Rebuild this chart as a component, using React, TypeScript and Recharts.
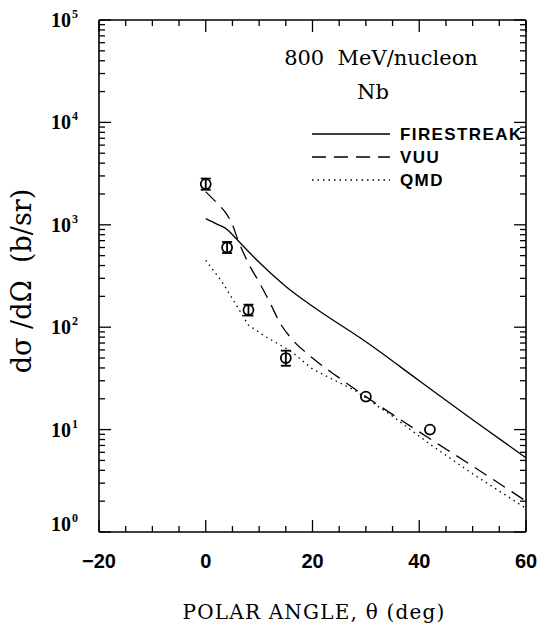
import React from 'react'
import {
  ComposedChart,
  Line,
  Scatter,
  ErrorBar,
  XAxis,
  YAxis,
} from 'recharts'

// values
const xTicks = [-20, -15, -10, -5, 0, 5, 10, 15, 20, 25, 30, 35, 40, 45, 50, 55, 60]
const yTicks = [
  1, 2, 3, 4, 5, 6, 7, 8, 9,
  10, 20, 30, 40, 50, 60, 70, 80, 90,
  100, 200, 300, 400, 500, 600, 700, 800, 900,
  1000, 2000, 3000, 4000, 5000, 6000, 7000, 8000, 9000,
  10000, 20000, 30000, 40000, 50000, 60000, 70000, 80000, 90000,
  100000,
]

const pointAngle = [0, 4, 8, 15, 30, 42]
const pointValue = [2500, 600, 147, 50, 21, 10]
const pointErrLow = [300, 70, 17, 8, 0, 0]
const pointErrHigh = [330, 80, 19, 9, 0, 0]

const fireAngle = [0, 2, 4, 5, 7, 10, 15, 20, 30, 40, 50, 60]
const fireValue = [1150, 1020, 900, 800, 620, 430, 250, 160, 72, 30, 12.5, 5.3]

const vuuAngle = [0, 2, 4, 5, 6, 8, 10, 12, 14, 16, 20, 25, 30, 40, 50, 60]
const vuuValue = [2100, 1650, 1250, 1000, 720, 420, 275, 175, 108, 78, 50, 32, 21, 9.5, 4.4, 2.0]

const qmdAngle = [0, 3, 5, 8, 11, 16, 20, 28, 35, 42, 50, 60]
const qmdValue = [450, 280, 190, 105, 82, 58, 39, 24, 13.5, 7.2, 3.7, 1.7]

const legendNames = ['FIRESTREAK', 'VUU', 'QMD']

const toRows = (xs: number[], ys: number[]) => xs.map((x, i) => ({ x, y: ys[i] }))

const fireData = toRows(fireAngle, fireValue)
const vuuData = toRows(vuuAngle, vuuValue)
const qmdData = toRows(qmdAngle, qmdValue)

const points = pointAngle.map((x, i) => ({
  x,
  y: pointValue[i],
  err: [pointErrLow[i], pointErrHigh[i]],
}))
const pointsWithErr = points.filter((p) => p.err[0] > 0)
const pointsNoErr = points.filter((p) => p.err[0] === 0)

const serif = '"DejaVu Serif", "Liberation Serif", serif'
const tickSerif = '"Liberation Serif", serif'
const sans = '"Liberation Sans", Arial, sans-serif'

const isDecade = (v: number) => Math.abs(Math.log10(v) - Math.round(Math.log10(v))) < 1e-9

function BottomTick(props: any) {
  const { x, y, payload } = props
  const v = payload.value
  const major = v % 20 === 0
  return (
    <g>
      <line x1={x} y1={y} x2={x} y2={y - (major ? 12 : 6)} stroke='#000' strokeWidth={1.3} />
      {major && (
        <text x={x} y={y + 36} textAnchor='middle' fontFamily={sans} fontWeight='bold' fontSize={20} fill='#000'>
          {v < 0 ? `\u2212${-v}` : v}
        </text>
      )}
    </g>
  )
}

function TopTick(props: any) {
  const { x, y, payload } = props
  const major = payload.value % 20 === 0
  return <line x1={x} y1={y} x2={x} y2={y + (major ? 12 : 6)} stroke='#000' strokeWidth={1.3} />
}

function LeftTick(props: any) {
  const { x, y, payload } = props
  const v = payload.value
  const major = isDecade(v)
  const exp = Math.round(Math.log10(v))
  const shift = v === 1 ? -8 : 0
  return (
    <g>
      <line x1={x} y1={y} x2={x + (major ? 12 : 6)} y2={y} stroke='#000' strokeWidth={1.3} />
      {major && (
        <text x={x - 48} y={y + 7 + shift} fontFamily={tickSerif} fontWeight='bold' fontSize={20} fill='#000'>
          10
          <tspan dx={1} dy={-9} fontSize={12}>{exp}</tspan>
        </text>
      )}
    </g>
  )
}

function RightTick(props: any) {
  const { x, y, payload } = props
  const major = isDecade(payload.value)
  return <line x1={x} y1={y} x2={x - (major ? 12 : 6)} y2={y} stroke='#000' strokeWidth={1.3} />
}

function Dot(props: any) {
  const { cx, cy } = props
  return <circle cx={cx} cy={cy} r={5} fill='none' stroke='#000' strokeWidth={1.8} />
}

export default function App() {
  const lx1 = 312
  const lx2 = 390
  const ltx = 400
  const lys = [134, 157, 180]
  const dashes = [undefined, '14 8', '1.5 4']
  return (
    <div style={{ position: 'absolute', left: 0, top: 0, width: 537, height: 628, overflow: 'hidden' }}>
      <ComposedChart
        width={537}
        height={628}
        margin={{ top: 19, right: 10, bottom: 95, left: 0 }}
      >
        <XAxis
          xAxisId='b'
          dataKey='x'
          type='number'
          domain={[-20, 60]}
          ticks={xTicks}
          allowDataOverflow
          height={1}
          tickSize={0}
          tickMargin={0}
          tickLine={false}
          tick={<BottomTick />}
          axisLine={{ stroke: '#000', strokeWidth: 1.6 }}
          interval={0}
        />
        <XAxis
          xAxisId='t'
          orientation='top'
          dataKey='x'
          type='number'
          domain={[-20, 60]}
          ticks={xTicks}
          allowDataOverflow
          height={1}
          tickSize={0}
          tickMargin={0}
          tickLine={false}
          tick={<TopTick />}
          axisLine={{ stroke: '#000', strokeWidth: 1.6 }}
          interval={0}
        />
        <YAxis
          yAxisId='l'
          dataKey='y'
          type='number'
          scale='log'
          domain={[1, 100000]}
          ticks={yTicks}
          allowDataOverflow
          width={99}
          tickSize={0}
          tickMargin={0}
          tickLine={false}
          tick={<LeftTick />}
          axisLine={{ stroke: '#000', strokeWidth: 1.6 }}
          interval={0}
        />
        <YAxis
          yAxisId='r'
          orientation='right'
          dataKey='y'
          type='number'
          scale='log'
          domain={[1, 100000]}
          ticks={yTicks}
          allowDataOverflow
          width={1}
          tickSize={0}
          tickMargin={0}
          tickLine={false}
          tick={<RightTick />}
          axisLine={{ stroke: '#000', strokeWidth: 1.6 }}
          interval={0}
        />

        <Line
          xAxisId='b'
          yAxisId='l'
          data={fireData}
          dataKey='y'
          type='monotone'
          stroke='#000'
          strokeWidth={1.3}
          dot={false}
          isAnimationActive={false}
        />
        <Line
          xAxisId='b'
          yAxisId='l'
          data={vuuData}
          dataKey='y'
          type='monotone'
          stroke='#000'
          strokeWidth={1.3}
          strokeDasharray='14 8'
          dot={false}
          isAnimationActive={false}
        />
        <Line
          xAxisId='b'
          yAxisId='l'
          data={qmdData}
          dataKey='y'
          type='linear'
          stroke='#000'
          strokeWidth={1.3}
          strokeDasharray='1.5 4'
          dot={false}
          isAnimationActive={false}
        />
        <Scatter
          xAxisId='b'
          yAxisId='l'
          data={pointsWithErr}
          dataKey='y'
          shape={<Dot />}
          isAnimationActive={false}
        >
          <ErrorBar dataKey='err' direction='y' width={5} stroke='#000' strokeWidth={1.8} />
        </Scatter>
        <Scatter
          xAxisId='b'
          yAxisId='l'
          data={pointsNoErr}
          dataKey='y'
          shape={<Dot />}
          isAnimationActive={false}
        />

        {/* annotations */}
        <text x={381} y={65} textAnchor='middle' fontFamily={serif} fontSize={21} fill='#000' style={{ whiteSpace: 'pre' }}>
          {'800  MeV/nucleon'}
        </text>
        <text x={373} y={99} textAnchor='middle' fontFamily={serif} fontSize={21} fill='#000'>
          Nb
        </text>
        {legendNames.map((name, i) => (
          <g key={name}>
            <line x1={lx1} x2={lx2} y1={lys[i]} y2={lys[i]} stroke='#000' strokeWidth={1.3} strokeDasharray={dashes[i]} />
            <text x={ltx} y={lys[i] + 6} fontFamily={sans} fontWeight='bold' fontSize={17} letterSpacing={1.4} fill='#000'>
              {name}
            </text>
          </g>
        ))}
        <text
          transform='translate(31 281) rotate(-90)'
          textAnchor='middle'
          fontFamily={serif}
          fontSize={27}
          fill='#000'
          style={{ whiteSpace: 'pre' }}
        >
          {'dσ /dΩ  (b/sr)'}
        </text>
        <text x={314} y={619} textAnchor='middle' fontFamily={serif} fontSize={20} letterSpacing={1.2} fill='#000'>
          POLAR ANGLE, θ (deg)
        </text>
      </ComposedChart>
    </div>
  )
}
